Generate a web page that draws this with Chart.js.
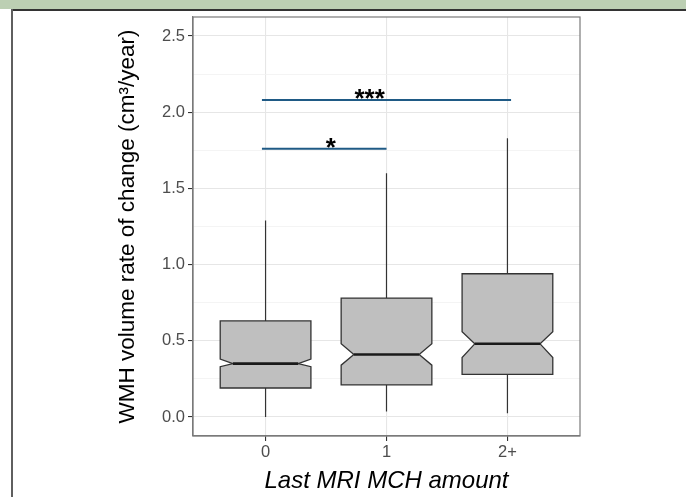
<!DOCTYPE html>
<html>
<head>
<meta charset="utf-8">
<script src="https://cdn.jsdelivr.net/npm/chart.js@4/dist/chart.umd.min.js"></script>
<style>
  body { margin: 0; background: #fff; }
  #wrap { position: relative; width: 686px; height: 497px; overflow: hidden; background: #fff; }
  #band { position: absolute; left: 0; top: 0; width: 686px; height: 9px; background: #bccfb3; }
  #topLine { position: absolute; left: 11px; top: 9px; width: 675px; height: 2px; background: #333; }
  #leftLine { position: absolute; left: 11px; top: 9px; width: 2px; height: 488px; background: #5f5f5f; }
  canvas { position: absolute; left: 0; top: 0; }
</style>
</head>
<body>
<div id="wrap">
  <div id="band"></div>
  <div id="topLine"></div>
  <div id="leftLine"></div>
  <canvas id="boxChart" width="686" height="497"></canvas>
</div>
<script>
// categories and box statistics
const categories = ['0', '1', '2+'];
const whiskerLow = [0.00, 0.035, 0.025];
const q1 = [0.19, 0.21, 0.28];
const median = [0.35, 0.41, 0.48];
const q3 = [0.63, 0.78, 0.94];
const whiskerHigh = [1.29, 1.60, 1.83];
const notchLow = [0.33, 0.34, 0.39];
const notchHigh = [0.38, 0.48, 0.56];

// significance brackets
const bracketStart = [-0.03, -0.03];
const bracketEnd = [2.03, 1.0];
const bracketY = [2.08, 1.76];
const bracketLabel = ['***', '*'];
const bracketLabelX = [0.86, 0.54];

const yMajorTicks = [0, 0.5, 1.0, 1.5, 2.0, 2.5];
const yMinorTicks = [0.25, 0.75, 1.25, 1.75, 2.25];

const BOX_HALF = 0.375;
const NOTCH_FRAC = 0.72;

const isMajor = v => yMajorTicks.some(t => Math.abs(t - v) < 1e-6);

const boxPlugin = {
    id: 'notchedBoxes',
    afterDatasetsDraw(chart) {
        const ctx = chart.ctx;
        const xs = chart.scales.x;
        const ys = chart.scales.y;
        const area = chart.chartArea;

        ctx.save();
        categories.forEach((c, i) => {
            const xl = xs.getPixelForValue(i - BOX_HALF);
            const xr = xs.getPixelForValue(i + BOX_HALF);
            const xc = xs.getPixelForValue(i);
            const xnl = xs.getPixelForValue(i - BOX_HALF * NOTCH_FRAC);
            const xnr = xs.getPixelForValue(i + BOX_HALF * NOTCH_FRAC);

            // whiskers
            ctx.strokeStyle = '#333';
            ctx.lineWidth = 1.2;
            ctx.beginPath();
            ctx.moveTo(xc, ys.getPixelForValue(q3[i]));
            ctx.lineTo(xc, ys.getPixelForValue(whiskerHigh[i]));
            ctx.moveTo(xc, ys.getPixelForValue(q1[i]));
            ctx.lineTo(xc, ys.getPixelForValue(whiskerLow[i]));
            ctx.stroke();

            // notched box
            ctx.beginPath();
            ctx.moveTo(xl, ys.getPixelForValue(q1[i]));
            ctx.lineTo(xl, ys.getPixelForValue(notchLow[i]));
            ctx.lineTo(xnl, ys.getPixelForValue(median[i]));
            ctx.lineTo(xl, ys.getPixelForValue(notchHigh[i]));
            ctx.lineTo(xl, ys.getPixelForValue(q3[i]));
            ctx.lineTo(xr, ys.getPixelForValue(q3[i]));
            ctx.lineTo(xr, ys.getPixelForValue(notchHigh[i]));
            ctx.lineTo(xnr, ys.getPixelForValue(median[i]));
            ctx.lineTo(xr, ys.getPixelForValue(notchLow[i]));
            ctx.lineTo(xr, ys.getPixelForValue(q1[i]));
            ctx.closePath();
            ctx.fillStyle = '#bfbfbf';
            ctx.fill();
            ctx.lineWidth = 1.3;
            ctx.strokeStyle = '#333';
            ctx.stroke();

            // median
            ctx.beginPath();
            ctx.lineWidth = 2.6;
            ctx.strokeStyle = '#1a1a1a';
            ctx.moveTo(xnl, ys.getPixelForValue(median[i]));
            ctx.lineTo(xnr, ys.getPixelForValue(median[i]));
            ctx.stroke();
        });

        // brackets
        bracketY.forEach((yv, k) => {
            const py = ys.getPixelForValue(yv);
            ctx.beginPath();
            ctx.lineWidth = 2;
            ctx.strokeStyle = '#1f5a85';
            ctx.moveTo(xs.getPixelForValue(bracketStart[k]), py);
            ctx.lineTo(xs.getPixelForValue(bracketEnd[k]), py);
            ctx.stroke();

            ctx.fillStyle = '#000';
            ctx.font = 'bold 26px "Liberation Sans", Arial';
            ctx.textAlign = 'center';
            ctx.textBaseline = 'alphabetic';
            ctx.fillText(bracketLabel[k], xs.getPixelForValue(bracketLabelX[k]), py + 7);
        });

        // panel border
        ctx.lineWidth = 1.2;
        ctx.strokeStyle = '#7a7a7a';
        ctx.strokeRect(area.left, area.top, area.right - area.left, area.bottom - area.top);
        ctx.restore();
    }
};

new Chart(document.getElementById('boxChart'), {
    type: 'scatter',
    data: { datasets: [] },
    options: {
        responsive: false,
        animation: false,
        layout: { padding: { left: 12, top: 17, right: 106, bottom: 0 } },
        plugins: { legend: { display: false }, tooltip: { enabled: false } },
        scales: {
            x: {
                type: 'linear',
                min: -0.6,
                max: 2.6,
                afterBuildTicks: scale => { scale.ticks = categories.map((c, i) => ({ value: i })); },
                afterFit: scale => { scale.height = 61; },
                ticks: {
                    callback: v => categories[v],
                    color: '#4d4d4d',
                    font: { family: '"Liberation Sans", Arial', size: 16.5 },
                    padding: 2
                },
                grid: { color: '#e6e6e6', lineWidth: 1.1, tickColor: '#333', tickLength: 5 },
                border: { display: true, color: '#7a7a7a', width: 1.2 },
                title: {
                    display: true,
                    text: 'Last MRI MCH amount',
                    color: '#000',
                    font: { family: '"Liberation Sans", Arial', size: 24, style: 'italic' },
                    padding: { top: 0, bottom: 1 }
                }
            },
            y: {
                type: 'linear',
                min: -0.125,
                max: 2.625,
                afterBuildTicks: scale => {
                    scale.ticks = yMajorTicks.concat(yMinorTicks).sort((a, b) => a - b).map(v => ({ value: v }));
                },
                afterFit: scale => { scale.width = 181; },
                ticks: {
                    callback: v => isMajor(v) ? v.toFixed(1) : '',
                    color: '#4d4d4d',
                    font: { family: '"Liberation Sans", Arial', size: 16.5 },
                    padding: 3
                },
                grid: {
                    color: ctx => isMajor(ctx.tick.value) ? '#e6e6e6' : '#f1f1f1',
                    lineWidth: ctx => isMajor(ctx.tick.value) ? 1.1 : 0.8,
                    tickColor: ctx => isMajor(ctx.tick.value) ? '#333' : 'rgba(0,0,0,0)',
                    tickLength: 5
                },
                border: { display: true, color: '#7a7a7a', width: 1.2 },
                title: {
                    display: true,
                    text: 'WMH volume rate of change (cm³/year)',
                    color: '#000',
                    font: { family: '"Liberation Sans", Arial', size: 22.5 },
                    padding: { top: 102, bottom: 0 }
                }
            }
        }
    },
    plugins: [boxPlugin]
});
</script>
</body>
</html>
